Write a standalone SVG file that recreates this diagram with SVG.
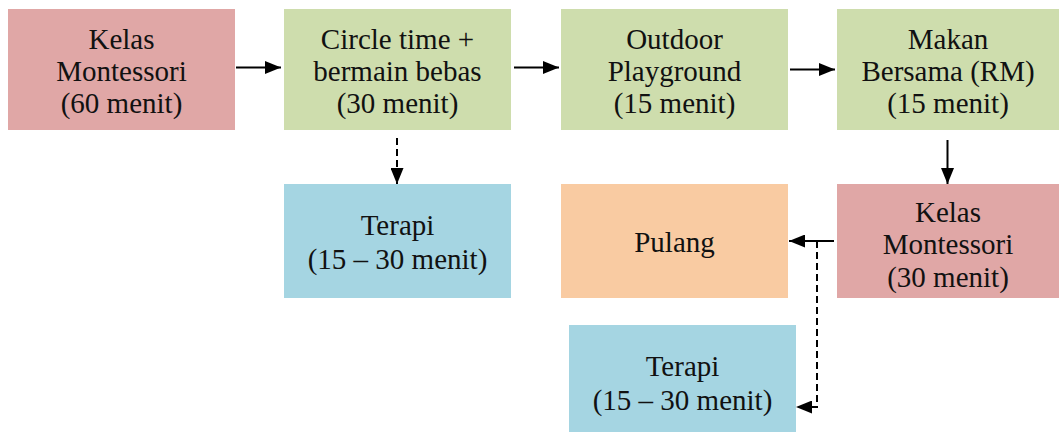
<svg xmlns="http://www.w3.org/2000/svg" width="1059" height="432" viewBox="0 0 1059 432">
<style>
.t{font-family:"Liberation Serif","Times New Roman",serif;font-size:29px;fill:#111;text-anchor:middle}
.pink{fill:#E0A7A6}.green{fill:#CEDDAD}.blue{fill:#A5D5E2}.orange{fill:#F9CBA2}
.c{stroke:#000;stroke-width:2;fill:none}
.d{stroke-dasharray:7 4}
</style>
<defs>
<marker id="ah" viewBox="0 0 16 13" refX="16" refY="6.5" markerWidth="16" markerHeight="13" markerUnits="userSpaceOnUse" orient="auto">
<path d="M0,0 L16,6.5 L0,13 z" fill="#000" stroke="none"/>
</marker>
</defs>
<rect width="1059" height="432" fill="#fff"/>
<g id="n1"><rect class="pink" x="8" y="9" width="227" height="121"/>
<text class="t" x="121.5" y="49">Kelas</text><text class="t" x="121.5" y="81">Montessori</text><text class="t" x="121.5" y="113">(60 menit)</text></g>
<g id="n2"><rect class="green" x="284" y="9" width="227" height="121"/>
<text class="t" x="397.5" y="49">Circle time +</text><text class="t" x="397.5" y="81">bermain bebas</text><text class="t" x="397.5" y="113">(30 menit)</text></g>
<g id="n3"><rect class="green" x="561" y="9" width="227" height="121"/>
<text class="t" x="674.5" y="49">Outdoor</text><text class="t" x="674.5" y="81">Playground</text><text class="t" x="674.5" y="113">(15 menit)</text></g>
<g id="n4"><rect class="green" x="837" y="9" width="222" height="121"/>
<text class="t" x="948" y="49">Makan</text><text class="t" x="948" y="81">Bersama (RM)</text><text class="t" x="948" y="113">(15 menit)</text></g>
<g id="n5"><rect class="blue" x="284" y="184" width="227" height="114"/>
<text class="t" x="397.5" y="235">Terapi</text><text class="t" x="397.5" y="269">(15 – 30 menit)</text></g>
<g id="n6"><rect class="orange" x="561" y="184" width="227" height="114"/>
<text class="t" x="674.5" y="252">Pulang</text></g>
<g id="n7"><rect class="pink" x="837" y="184" width="222" height="114"/>
<text class="t" x="948" y="222">Kelas</text><text class="t" x="948" y="254">Montessori</text><text class="t" x="948" y="287">(30 menit)</text></g>
<g id="n8"><rect class="blue" x="569" y="325" width="227" height="107"/>
<text class="t" x="682.5" y="376">Terapi</text><text class="t" x="682.5" y="410">(15 – 30 menit)</text></g>
<g id="connectors">
<line class="c" x1="236" y1="67.5" x2="281" y2="67.5" marker-end="url(#ah)"/>
<line class="c" x1="514" y1="67.5" x2="559" y2="67.5" marker-end="url(#ah)"/>
<line class="c" x1="790" y1="69.5" x2="835" y2="69.5" marker-end="url(#ah)"/>
<line class="c" x1="947.5" y1="140" x2="947.5" y2="184" marker-end="url(#ah)"/>
<line class="c d" x1="397" y1="138" x2="397" y2="184" marker-end="url(#ah)"/>
<line class="c" x1="834" y1="241" x2="789" y2="241" marker-end="url(#ah)"/>
<polyline class="c d" points="817,241 817,407 796,407" marker-end="url(#ah)"/>
</g>
</svg>
